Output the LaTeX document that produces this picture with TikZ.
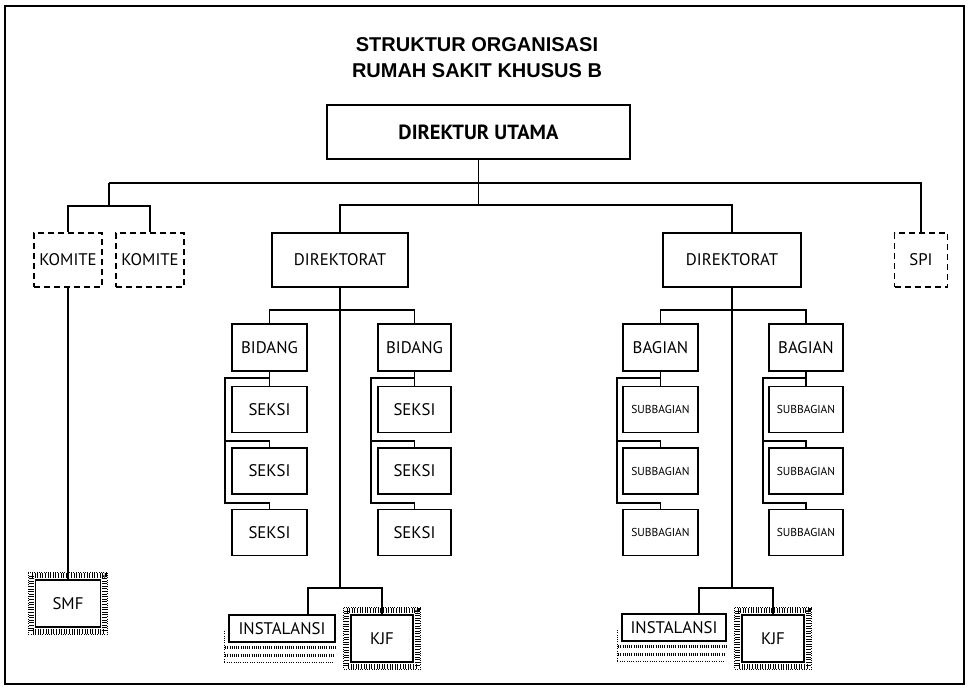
\documentclass[tikz,border=0pt]{standalone}
\usepackage{fontspec}
\setmainfont{PT Sans}
\newfontfamily\titlefont{Liberation Sans}
\begin{document}
\begin{tikzpicture}[x=1pt,y=-1pt,
  line/.style={line width=1.8pt},
  box/.style 2 args={draw, line width=1.8pt, minimum width=#1, minimum height=#2,
    inner sep=0pt, font=\fontsize{16.8}{19}\selectfont},
  dbox/.style 2 args={box={#1}{#2}, dash pattern=on 6pt off 4pt},
  small/.style={font=\fontsize{11.5}{14}\selectfont},
  ticks/.style={line width=5pt, dash pattern=on 1pt off 1.6pt},
  thinticks/.style={line width=3pt, dash pattern=on 0.9pt off 1.3pt},
  dots/.style={line width=0.9pt, dash pattern=on 1pt off 1.3pt},
  titletext/.style={font=\titlefont\bfseries\fontsize{20}{24}\selectfont},
]
\useasboundingbox (0,0) rectangle (970,693);
\draw[line width=1.8pt] (5,6) rectangle (964,684);

% heading
\node[titletext] (title1) at (477,45) {STRUKTUR ORGANISASI};
\node[titletext] (title2) at (477,71) {RUMAH SAKIT KHUSUS B};

% top level
\node[box={303pt}{54pt}, font=\bfseries\fontsize{20.5}{24}\selectfont] (du) at (478.5,132) {DIREKTUR UTAMA};
\node[dbox={68pt}{54pt}] (kom1) at (68,260) {KOMITE};
\node[dbox={68pt}{54pt}] (kom2) at (150,260) {KOMITE};
\node[dbox={53pt}{54pt}] (spi) at (921,260) {SPI};
\node[box={136pt}{54pt}] (dir1) at (340,260) {DIREKTORAT};
\node[box={138pt}{54pt}] (dir2) at (732,260) {DIREKTORAT};

% second level
\node[box={75pt}{47pt}] (bid1) at (269.5,347.5) {BIDANG};
\node[box={73pt}{47pt}] (bid2) at (414.5,347.5) {BIDANG};
\node[box={75pt}{47pt}] (bag1) at (660.5,347.5) {BAGIAN};
\node[box={74pt}{47pt}] (bag2) at (806,347.5) {BAGIAN};

% sections and sub-sections
\foreach \y [count=\i] in {409.5,471,532.5} {
  \node[box={75pt}{46pt}] (s1\i) at (269.5,\y) {SEKSI};
  \node[box={73pt}{46pt}] (s2\i) at (414.5,\y) {SEKSI};
  \node[box={75pt}{46pt}, small] (u1\i) at (660.5,\y) {SUBBAGIAN};
  \node[box={74pt}{46pt}, small] (u2\i) at (806,\y) {SUBBAGIAN};
}

% functional units
\node[box={65pt}{47pt}] (smf) at (68,603.5) {SMF};
\node[box={106pt}{27pt}] (inst1) at (282,628.5) {INSTALANSI};
\node[box={62pt}{47pt}] (kjf1) at (382,638.5) {KJF};
\node[box={104pt}{27pt}] (inst2) at (674,627.5) {INSTALANSI};
\node[box={62pt}{47pt}] (kjf2) at (773,638.5) {KJF};

% textured frames
\foreach \n in {smf,kjf1,kjf2} {
  \draw[ticks] ([shift={(-3.5pt,3.5pt)}]\n.north west) rectangle ([shift={(3.5pt,-3.5pt)}]\n.south east);
  \draw[dots] ([shift={(-6.5pt,6.5pt)}]\n.north west) rectangle ([shift={(6.5pt,-6.5pt)}]\n.south east);
}
% stacked shadows
\foreach \n in {inst1,inst2} {
  \draw[dots] ([shift={(-4pt,12pt)}]\n.south west) -- ([shift={(-4pt,-20pt)}]\n.south west)
    -- ([shift={(-3pt,-20pt)}]\n.south east);
  \draw[thinticks] ([shift={(-3pt,-5pt)}]\n.south west) -- ([shift={(0pt,-5pt)}]\n.south east);
  \draw[thinticks] ([shift={(-3pt,-13pt)}]\n.south west) -- ([shift={(-2pt,-13pt)}]\n.south east);
}

% junction points
\coordinate (topl) at (109,183);
\coordinate (kbar) at (109,206);
\coordinate (mid) at (478.5,205);
\coordinate (d1bar) at (340,310);
\coordinate (d2bar) at (732,310);
\coordinate (d1low) at (340,588);
\coordinate (d2low) at (732,588);

% connectors from the top
\draw[line] (du.south) -- (mid);
\draw[line] (topl) -- (topl -| spi.north) -- (spi.north);
\draw[line] (topl) -- (kbar);
\draw[line] (kom1.north) |- (kbar) -| (kom2.north);
\draw[line] (dir1.north) |- (mid) -| (dir2.north);
\draw[line] (kom1.south) -- (smf.north);

% directorate branches
\draw[line] (dir1.south) -- (d1low);
\draw[line] (dir2.south) -- (d2low);
\draw[line] (bid1.north) |- (d1bar) -| (bid2.north);
\draw[line] (bag1.north) |- (d2bar) -| (bag2.north);
\draw[line] ([xshift=26pt]inst1.north) |- (d1low) -| (kjf1.north);
\draw[line] ([xshift=25pt]inst2.north) |- (d2low) -| (kjf2.north);

% side brackets to the stacked boxes
\foreach \p/\c/\x in {bid1/s1/225, bid2/s2/371, bag1/u1/617, bag2/u2/763} {
  \coordinate (\p-t) at (\x,378);
  \coordinate (\p-m) at (\x,441);
  \coordinate (\p-b) at (\x,503);
  \draw[line] (\p.south) -- (\c1.north);
  \draw[line] (\p.south) |- (\p-t) -- (\p-b) -| (\c3.north);
  \draw[line] (\p-m) -| (\c2.north);
}
\end{tikzpicture}
\end{document}
